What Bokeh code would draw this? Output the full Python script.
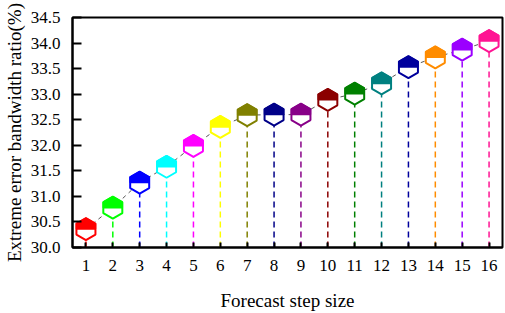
import numpy as np
from bokeh.plotting import figure
from bokeh.models import Range1d, FixedTicker, PrintfTickFormatter
from bokeh.embed import file_html
from bokeh.resources import INLINE

steps = list(range(1, 17))
ratio = [30.36, 30.78, 31.27, 31.58, 31.99, 32.36, 32.59, 32.60,
         32.60, 32.89, 33.01, 33.21, 33.53, 33.72, 33.87, 34.04]
colors = ["#FF0000", "#00FF00", "#0000FF", "#00FFFF", "#FF00FF", "#FFFF00",
          "#808000", "#000088", "#880088", "#8B0000", "#008000", "#008080",
          "#00009C", "#FF8C00", "#9B00FF", "#FF1493"]
y_ticks = [30.0, 30.5, 31.0, 31.5, 32.0, 32.5, 33.0, 33.5, 34.0, 34.5]
x_label = "Forecast step size"
y_label = "Extreme error bandwidth ratio(%)"

X0, X1 = 0.5, 16.5
Y0, Y1 = 30.0, 34.5
BL, BR, BT, BB = 71, 3, 17, 66
W, H = 505, 313
FW, FH = W - BL - BR, H - BT - BB
kx = FW / (X1 - X0)
ky = FH / (Y1 - Y0)

FONT = "Liberation Serif"

p = figure(width=W, height=H, output_backend="svg", toolbar_location=None,
           x_range=Range1d(X0, X1), y_range=Range1d(Y0, Y1),
           min_border_left=BL, min_border_right=BR,
           min_border_top=BT, min_border_bottom=BB)
p.grid.visible = False
p.outline_line_color = "black"
p.outline_line_width = 2
p.background_fill_color = "white"
p.border_fill_color = "white"

# stems
p.segment(x0=steps, y0=[Y0] * len(steps), x1=steps, y1=ratio,
          line_color=colors, line_width=1.5, line_dash="6 4")
# connecting dashed line
p.line(steps, ratio, line_color="#555555", line_width=1, line_dash="4 4")

# half-filled hexagon markers (pointy top)
R = 11.0
w = R * np.sqrt(3) / 2
xs_full, ys_full, xs_top, ys_top = [], [], [], []
for xi, yi in zip(steps, ratio):
    dx = w / kx
    dyf = R / ky
    dyh = R / 2 / ky
    xs_full.append([xi, xi + dx, xi + dx, xi, xi - dx, xi - dx])
    ys_full.append([yi + dyf, yi + dyh, yi - dyh, yi - dyf, yi - dyh, yi + dyh])
    xs_top.append([xi, xi + dx, xi + dx, xi - dx, xi - dx])
    ys_top.append([yi + dyf, yi + dyh, yi, yi, yi + dyh])

p.patches(xs_full, ys_full, fill_color="white", line_color=colors, line_width=2)
p.patches(xs_top, ys_top, fill_color=colors, line_color=colors, line_width=1.5)

for ax in (p.xaxis[0], p.yaxis[0]):
    ax.axis_line_width = 2
    ax.major_tick_out = 0
    ax.minor_tick_line_color = None
    ax.major_tick_line_width = 2
    ax.major_label_text_font = FONT
    ax.major_label_text_font_size = "17px"
    ax.major_label_text_color = "black"
    ax.axis_label_text_font = FONT
    ax.axis_label_text_font_size = "19px"
    ax.axis_label_text_font_style = "normal"
    ax.axis_label_text_color = "black"

p.xaxis.ticker = FixedTicker(ticks=steps)
p.xaxis.major_tick_in = 5
p.xaxis.major_label_standoff = 12
p.xaxis.axis_label = x_label
p.xaxis.axis_label_standoff = 16

p.yaxis.ticker = FixedTicker(ticks=y_ticks)
p.yaxis.formatter = PrintfTickFormatter(format="%.1f")
p.yaxis.major_tick_in = 9
p.yaxis.major_label_standoff = 12
p.yaxis.axis_label = y_label
p.yaxis.axis_label_standoff = 3

open("out.html", "w").write(file_html(p, INLINE))
